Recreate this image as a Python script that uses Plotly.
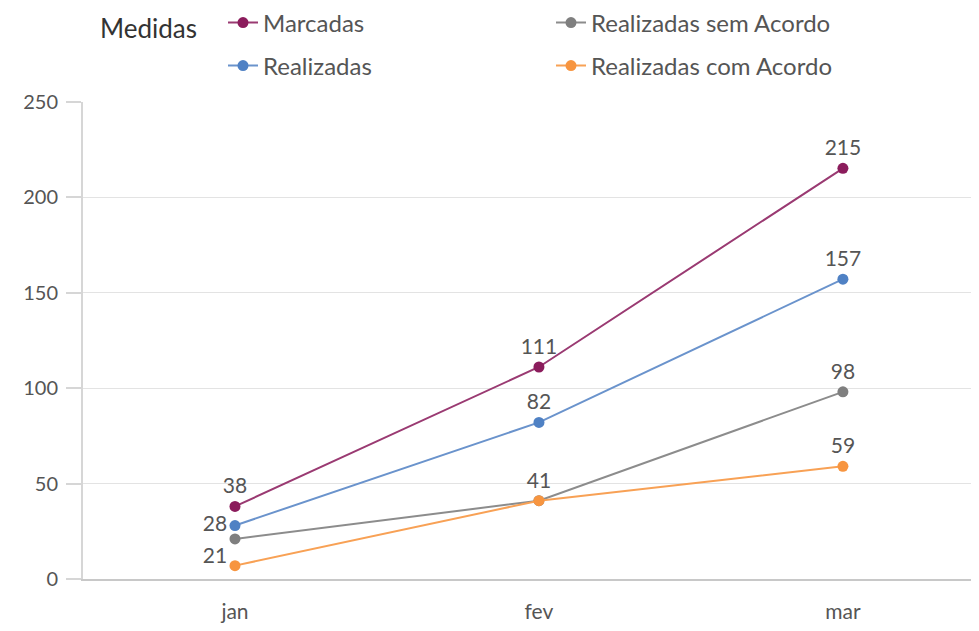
import plotly.graph_objects as go

months = ["jan", "fev", "mar"]
series_names = ["Marcadas", "Realizadas", "Realizadas sem Acordo", "Realizadas com Acordo"]
marcadas = [38, 111, 215]
realizadas = [28, 82, 157]
sem_acordo = [21, 41, 98]
com_acordo = [7, 41, 59]
y_ticks = [0, 50, 100, 150, 200, 250]
legend_title = "Medidas"

colors = ["#8b1c5c", "#4f81c4", "#7f7f7f", "#f79540"]
line_colors = ["#9a3a72", "#6a93cc", "#8c8c8c", "#f8a155"]
# which data labels are visible (overlapping ones hidden, as in the original)
show = [[1, 1, 1], [1, 1, 1], [1, 1, 1], [0, 0, 1]]
positions = [
    ["top center", "top center", "top center"],
    ["middle left", "top center", "top center"],
    ["bottom left", "top center", "top center"],
    ["top center", "top center", "top center"],
]
legends = ["legend", "legend2", "legend", "legend2"]
ranks = [1, 3, 2, 4]

FONT = "Lato"
W, H = 979, 631
L, T, B, R = 75, 90, 60, 0

fig = go.Figure()
for i, (name, vals) in enumerate(zip(series_names, [marcadas, realizadas, sem_acordo, com_acordo])):
    fig.add_trace(go.Scatter(
        x=months, y=vals, name=name, mode="lines+markers+text",
        text=[str(v) if s else "" for v, s in zip(vals, show[i])],
        textposition=positions[i],
        textfont=dict(family=FONT, size=21, color="#555555"),
        line=dict(color=line_colors[i], width=2),
        marker=dict(color=colors[i], size=11),
        legend=legends[i], legendrank=ranks[i],
        cliponaxis=False,
    ))

plot_w = W - L - R
plot_h = H - T - B
fig.add_annotation(
    text=legend_title, xref="paper", yref="paper",
    x=(90 - L) / plot_w, xanchor="left",
    y=1 + (T - 16) / plot_h, yanchor="middle",
    showarrow=False, font=dict(family=FONT, size=26, color="#333333"),
)

leg_common = dict(
    orientation="h", xref="container", yref="container",
    x=215 / W, xanchor="left", yanchor="middle",
    font=dict(size=24, color="#555555"), entrywidth=283,
    bgcolor="rgba(0,0,0,0)",
)
fig.update_layout(
    width=W, height=H,
    margin=dict(l=L, r=R, t=T, b=B),
    plot_bgcolor="white", paper_bgcolor="white",
    font=dict(family=FONT, color="#555555", size=19),
    legend=dict(y=1 - 15 / H, **leg_common),
    legend2=dict(y=1 - 58 / H, **leg_common),
    showlegend=True,
)
fig.update_xaxes(
    range=[-0.5, 2.474], showgrid=False, showline=True, linecolor="#c8c8c8", linewidth=2,
    ticks="outside", ticklen=13, tickcolor="rgba(0,0,0,0)",
    tickfont=dict(size=21, color="#555555"), zeroline=False,
)
fig.update_yaxes(
    range=[0, 250], tickvals=y_ticks, showgrid=True, gridcolor="#e3e3e3", gridwidth=1,
    showline=True, linecolor="#d6d6d6", linewidth=2, zeroline=False,
    ticks="outside", ticklen=15, tickcolor="#d6d6d6", tickwidth=2,
    tickfont=dict(size=20, color="#555555"), ticklabelstandoff=4,
)

fig.write_html("out.html")
